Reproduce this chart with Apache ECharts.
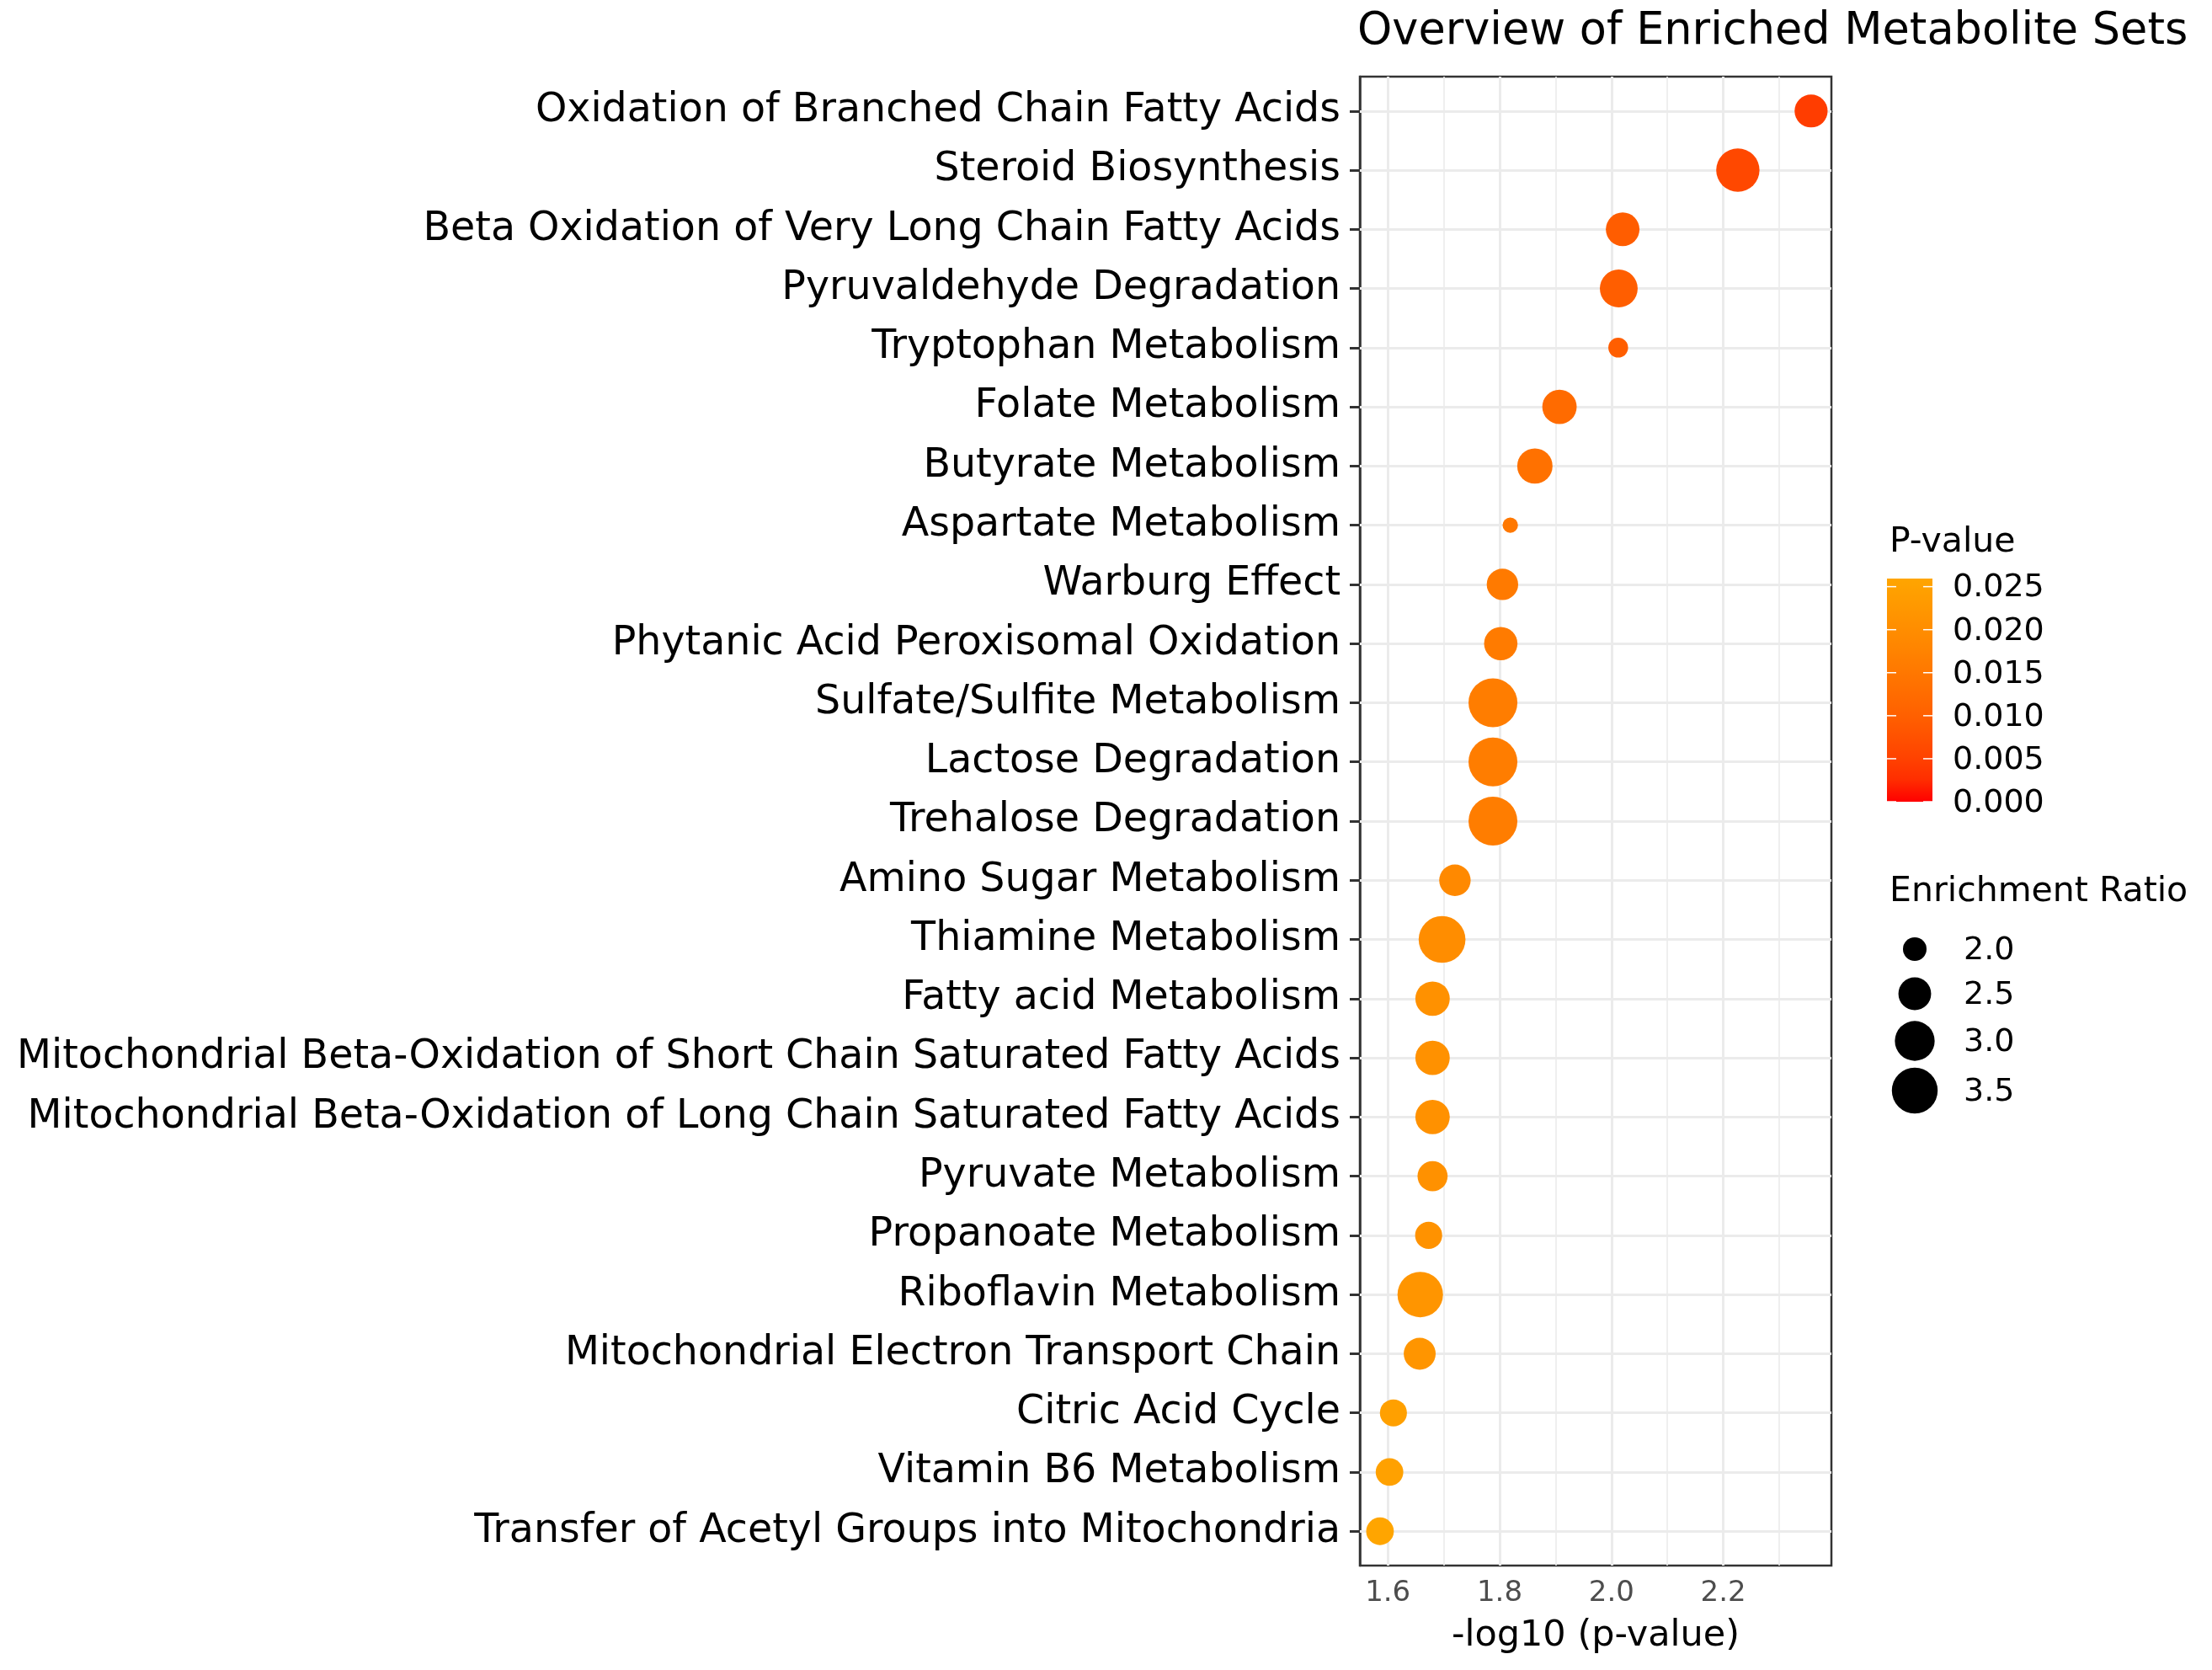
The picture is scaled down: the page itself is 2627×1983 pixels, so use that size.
<!DOCTYPE html>
<html>
<head>
<meta charset="utf-8">
<title>Overview of Enriched Metabolite Sets</title>
<script src="https://cdn.jsdelivr.net/npm/echarts@6/dist/echarts.min.js"></script>
<style>
    html, body { margin: 0; padding: 0; background: #fff; }
    #main { width: 2627px; height: 1983px; }
</style>
</head>
<body>
<div id="main"></div>
<script>
// metabolite sets, top to bottom
var categories = [
    'Oxidation of Branched Chain Fatty Acids',
    'Steroid Biosynthesis',
    'Beta Oxidation of Very Long Chain Fatty Acids',
    'Pyruvaldehyde Degradation',
    'Tryptophan Metabolism',
    'Folate Metabolism',
    'Butyrate Metabolism',
    'Aspartate Metabolism',
    'Warburg Effect',
    'Phytanic Acid Peroxisomal Oxidation',
    'Sulfate/Sulfite Metabolism',
    'Lactose Degradation',
    'Trehalose Degradation',
    'Amino Sugar Metabolism',
    'Thiamine Metabolism',
    'Fatty acid Metabolism',
    'Mitochondrial Beta-Oxidation of Short Chain Saturated Fatty Acids',
    'Mitochondrial Beta-Oxidation of Long Chain Saturated Fatty Acids',
    'Pyruvate Metabolism',
    'Propanoate Metabolism',
    'Riboflavin Metabolism',
    'Mitochondrial Electron Transport Chain',
    'Citric Acid Cycle',
    'Vitamin B6 Metabolism',
    'Transfer of Acetyl Groups into Mitochondria'
];
// -log10 (p-value)
var logP = [2.357, 2.226, 2.020, 2.013, 2.012, 1.907, 1.863, 1.819, 1.805, 1.802,
    1.788, 1.788, 1.788, 1.720, 1.697, 1.680, 1.680, 1.680, 1.680, 1.673,
    1.658, 1.657, 1.610, 1.603, 1.586];
// enrichment ratio
var enrichment = [2.52, 3.28, 2.56, 2.85, 1.84, 2.61, 2.67, 1.69, 2.42, 2.54,
    3.78, 3.78, 3.78, 2.42, 3.59, 2.61, 2.61, 2.61, 2.34, 2.17,
    3.47, 2.45, 2.17, 2.20, 2.20];

var xTicks = [1.6, 1.8, 2.0, 2.2];
var xMinor = [1.7, 1.9, 2.1, 2.3];
var pTicks = [0.000, 0.005, 0.010, 0.015, 0.020, 0.025];
var sizeTicks = [2.0, 2.5, 3.0, 3.5];

var FONT = 'DejaVu Sans';

// 面积比例的点大小
function dotSize(v) {
    return 2 * Math.sqrt(Math.max(20, -530 + 363 * v));
}

// 红 -> 橙 在 Lab 空间插值
function lin(c) { c /= 255; return c <= 0.04045 ? c / 12.92 : Math.pow((c + 0.055) / 1.055, 2.4); }
function gam(c) {
    c = c <= 0.0031308 ? 12.92 * c : 1.055 * Math.pow(c, 1 / 2.4) - 0.055;
    return Math.round(Math.max(0, Math.min(1, c)) * 255);
}
function toLab(rgb) {
    var r = lin(rgb[0]), g = lin(rgb[1]), b = lin(rgb[2]);
    var x = (0.4124 * r + 0.3576 * g + 0.1805 * b) / 0.95047;
    var y = 0.2126 * r + 0.7152 * g + 0.0722 * b;
    var z = (0.0193 * r + 0.1192 * g + 0.9505 * b) / 1.08883;
    function f(t) { return t > 0.008856 ? Math.cbrt(t) : 7.787 * t + 16 / 116; }
    var fx = f(x), fy = f(y), fz = f(z);
    return [116 * fy - 16, 500 * (fx - fy), 200 * (fy - fz)];
}
function fromLab(lab) {
    var fy = (lab[0] + 16) / 116, fx = fy + lab[1] / 500, fz = fy - lab[2] / 200;
    function fi(t) { return t > 0.206893 ? t * t * t : (t - 16 / 116) / 7.787; }
    var x = 0.95047 * fi(fx), y = fi(fy), z = 1.08883 * fi(fz);
    var r = 3.2406 * x - 1.5372 * y - 0.4986 * z;
    var g = -0.9689 * x + 1.8758 * y + 0.0415 * z;
    var b = 0.0557 * x - 0.2040 * y + 1.0570 * z;
    return 'rgb(' + gam(r) + ',' + gam(g) + ',' + gam(b) + ')';
}
var labLow = toLab([255, 0, 0]), labHigh = toLab([255, 165, 0]);
var colorStops = [];
for (var k = 0; k <= 10; k++) {
    var t = k / 10;
    colorStops.push(fromLab([
        labLow[0] + (labHigh[0] - labLow[0]) * t,
        labLow[1] + (labHigh[1] - labLow[1]) * t,
        labLow[2] + (labHigh[2] - labLow[2]) * t
    ]));
}

var pValues = logP.map(function (v) { return Math.pow(10, -v); });
var pMax = Math.max.apply(null, pValues);

var points = [];
for (var i = 0; i < categories.length; i++) {
    points.push([logP[i], i, pValues[i], enrichment[i], categories[i]]);
}
var rowIndex = categories.map(function (c, i) { return i; });

// 网格线
var gridLines = [];
xTicks.forEach(function (v) { gridLines.push({ xAxis: v, lineStyle: { width: 3 } }); });
xMinor.forEach(function (v) { gridLines.push({ xAxis: v, lineStyle: { width: 1.6 } }); });
rowIndex.forEach(function (v) { gridLines.push({ yAxis: v, lineStyle: { width: 3 } }); });

// 图例位置
var bar = { x: 2241, y: 687, w: 54, h: 265 };
var legendX = 2244;
var graphics = [];
graphics.push({
    type: 'text', left: legendX, top: 624,
    style: { text: 'P-value', font: '41px "DejaVu Sans"', fill: '#000' }
});
var gradStops = colorStops.map(function (c, j) { return { offset: 1 - j / 10, color: c }; }).reverse();
graphics.push({
    type: 'rect', shape: { x: bar.x, y: bar.y, width: bar.w, height: bar.h },
    style: { fill: new echarts.graphic.LinearGradient(0, 0, 0, 1, gradStops) }
});
pTicks.forEach(function (v) {
    var yy = bar.y + bar.h - v / pMax * bar.h;
    graphics.push({ type: 'line', shape: { x1: bar.x, y1: yy, x2: bar.x + 11, y2: yy }, style: { stroke: '#fff', lineWidth: 1.5 } });
    graphics.push({ type: 'line', shape: { x1: bar.x + bar.w - 11, y1: yy, x2: bar.x + bar.w, y2: yy }, style: { stroke: '#fff', lineWidth: 1.5 } });
    graphics.push({
        type: 'text', x: 2319, y: yy + 2,
        style: { text: v.toFixed(3), font: '38px "DejaVu Sans"', fill: '#000', verticalAlign: 'middle', align: 'left' }
    });
});
graphics.push({
    type: 'text', left: legendX, top: 1039,
    style: { text: 'Enrichment Ratio', font: '41px "DejaVu Sans"', fill: '#000' }
});
var sizeY = [1127, 1180, 1236, 1295];
sizeTicks.forEach(function (v, j) {
    graphics.push({ type: 'circle', shape: { cx: 2274, cy: sizeY[j], r: dotSize(v) / 2 }, style: { fill: '#000' } });
    graphics.push({
        type: 'text', x: 2332, y: sizeY[j] + 2,
        style: { text: v.toFixed(1), font: '38px "DejaVu Sans"', fill: '#000', verticalAlign: 'middle', align: 'left' }
    });
});

var myChart = echarts.init(document.getElementById('main'));
var option = {
    animation: false,
    backgroundColor: '#fff',
    textStyle: { fontFamily: FONT },
    title: {
        text: 'Overview of Enriched Metabolite Sets',
        left: 1612,
        top: 12,
        padding: 0,
        textStyle: { fontFamily: FONT, fontSize: 52.5, fontWeight: 'normal', color: '#000' }
    },
    grid: {
        left: 1615, top: 91, width: 560, height: 1768,
        show: true, borderColor: '#333', borderWidth: 2.5, backgroundColor: '#fff'
    },
    xAxis: {
        type: 'value',
        min: 1.550,
        max: 2.3933,
        name: '-log10 (p-value)',
        nameLocation: 'middle',
        nameGap: 62,
        nameTextStyle: { fontFamily: FONT, fontSize: 43, color: '#000' },
        axisLine: { show: true, lineStyle: { color: '#333', width: 2.5 } },
        axisTick: { show: true, customValues: xTicks, length: 10, lineStyle: { color: '#333', width: 3 } },
        axisLabel: {
            customValues: xTicks, margin: 16, fontFamily: FONT, fontSize: 34, color: '#4d4d4d',
            formatter: function (v) { return v.toFixed(1); }
        },
        splitLine: { show: false }
    },
    yAxis: {
        type: 'value',
        inverse: true,
        min: -0.58,
        max: 24.58,
        axisLine: { show: true, lineStyle: { color: '#333', width: 2.5 } },
        axisTick: { show: true, customValues: rowIndex, length: 12, lineStyle: { color: '#333', width: 3 } },
        axisLabel: {
            customValues: rowIndex, margin: 23, fontFamily: FONT, fontSize: 47.5, color: '#000',
            padding: [7, 0, 0, 0],
            formatter: function (v) { return categories[Math.round(v)]; }
        },
        splitLine: { show: false }
    },
    visualMap: {
        type: 'continuous',
        show: false,
        seriesIndex: 1,
        dimension: 2,
        min: 0,
        max: pMax,
        inRange: { color: colorStops }
    },
    series: [
        {
            type: 'scatter',
            z: 1,
            data: [],
            silent: true,
            markLine: {
                z: 1,
                silent: true,
                symbol: ['none', 'none'],
                label: { show: false },
                lineStyle: { color: '#ebebeb', type: 'solid' },
                data: gridLines
            }
        },
        {
            type: 'scatter',
            z: 10,
            data: points,
            symbolSize: function (val) { return dotSize(val[3]); },
            itemStyle: { opacity: 1 }
        }
    ],
    graphic: graphics
};
myChart.setOption(option);
</script>
</body>
</html>
